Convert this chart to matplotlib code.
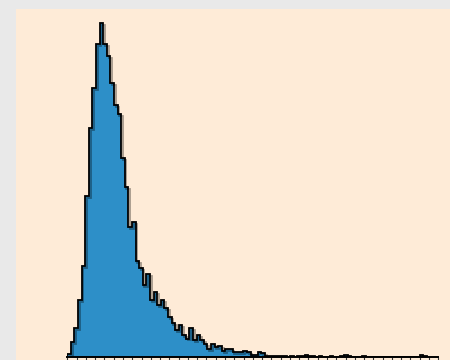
import numpy as np
import matplotlib
matplotlib.use("Agg")
import matplotlib.pyplot as plt
import matplotlib.patheffects as pe
from matplotlib.patches import Rectangle

# histogram counts (100 bins)
counts = [8, 44, 86, 169, 272, 482, 685, 805, 937, 1000,
          937, 902, 820, 755, 727, 595, 509, 389, 403, 287,
          265, 215, 247, 170, 194, 155, 170, 145, 118, 100,
          80, 95, 64, 54, 85, 49, 65, 50, 38, 23,
          37, 29, 32, 16, 23, 23, 13, 13, 13, 16,
          13, 5, 5, 13, 10, 3, 1, 3, 1, 3,
          1, 0, 1, 0, 3, 1, 5, 1, 3, 0,
          1, 0, 0, 1, 0, 0, 1, 4, 3, 0,
          0, 0, 2, 0, 0, 0, 0, 0, 0, 0,
          0, 0, 0, 0, 0, 0, 0, 0, 4, 3]
bin_start = 0.0
bin_width = 0.3875
xticks = list(range(0, 41))

edges = bin_start + bin_width * np.arange(len(counts) + 1)

fig = plt.figure(figsize=(4.5, 3.6), dpi=100)
fig.patch.set_facecolor("#e9e9e9")

# peach panel behind the plot
fig.patches.append(Rectangle((16 / 450, 0), 1 - 16 / 450, 1 - 9 / 360,
                             transform=fig.transFigure, facecolor="#feebd7",
                             edgecolor="none", zorder=-5))

ax = fig.add_axes([67.3 / 450, 3.5 / 360, 371 / 450, 347.5 / 360])
ax.set_facecolor("none")
ax.set_zorder(2)

ax.stairs(counts, edges, fill=True, color="#2d8fc8", zorder=2)
ax.stairs(counts, edges, color="black", linewidth=1.3, zorder=3,
          path_effects=[pe.SimpleLineShadow(offset=(1.2, -1.2), shadow_color="black", alpha=0.35),
                        pe.Normal()])

ax.set_xlim(0, 40)
ax.set_ylim(0, 1042.5)
ax.set_xticks(xticks)
ax.set_yticks([])
ax.tick_params(axis="x", direction="out", length=4, width=0.8, color="#333333",
               labelbottom=False)
for side in ["left", "right", "top"]:
    ax.spines[side].set_visible(False)
ax.spines["bottom"].set_linewidth(1.4)
ax.spines["bottom"].set_zorder(4)

plt.savefig("out.png", dpi=100, facecolor=fig.get_facecolor())
